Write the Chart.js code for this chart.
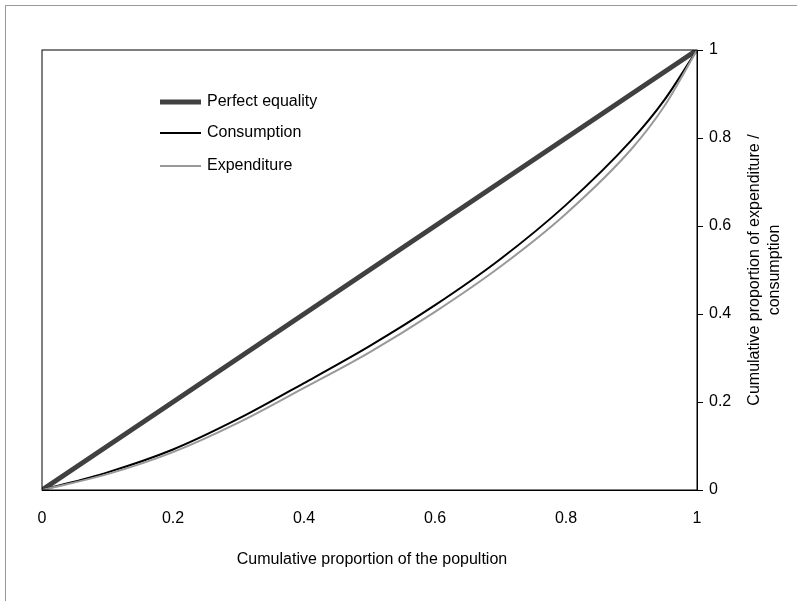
<!DOCTYPE html>
<html>
<head>
<meta charset="utf-8">
<script src="https://cdn.jsdelivr.net/npm/chart.js@4.4.1/dist/chart.umd.min.js"></script>
<style>
  html, body { margin: 0; padding: 0; background: #fff; }
  #wrap { position: relative; width: 797px; height: 601px; }
  #frame { position: absolute; left: 5px; top: 5px; width: 800px; height: 800px; border-left: 1px solid #999; border-top: 1px solid #999; pointer-events: none; }
</style>
</head>
<body>
<div id="wrap">
  <canvas id="chart" width="797" height="601"></canvas>
  <div id="frame"></div>
</div>
<script>
// Cumulative population share
const popShare = [0, 0.1, 0.2, 0.3, 0.4, 0.5, 0.6, 0.7, 0.8, 0.9, 0.95, 1];
const equality = [0, 0.1, 0.2, 0.3, 0.4, 0.5, 0.6, 0.7, 0.8, 0.9, 0.95, 1];
const consumption = [0, 0.04, 0.092, 0.162, 0.243, 0.327, 0.42, 0.525, 0.648, 0.795, 0.886, 1];
const expenditure = [0, 0.036, 0.086, 0.153, 0.232, 0.313, 0.405, 0.508, 0.628, 0.775, 0.872, 1];
const seriesNames = ['Perfect equality', 'Consumption', 'Expenditure'];
const seriesColors = ['#404040', '#000000', '#999999'];
const seriesWidths = [5, 2, 2];
const xTitle = 'Cumulative proportion of the popultion';
const yTitle = ['Cumulative proportion of expenditure /', 'consumption'];

const toPoints = (ys) => ys.map((y, i) => ({ x: popShare[i], y }));
const FONT = '"Liberation Sans", Arial, sans-serif';
const fmt = (v) => String(Math.round(v * 10) / 10);

const extras = {
    id: 'extras',
    afterDraw(chart) {
        const { ctx, chartArea: a } = chart;
        ctx.save();
        // Plot frame
        ctx.strokeStyle = '#000';
        ctx.lineWidth = 1;
        ctx.strokeRect(a.left, a.top, a.right - a.left, a.bottom - a.top);

        // Legend
        ctx.font = '16px ' + FONT;
        ctx.textBaseline = 'middle';
        const rows = [102, 133, 166];
        seriesNames.forEach((name, i) => {
            ctx.strokeStyle = seriesColors[i];
            ctx.lineWidth = seriesWidths[i];
            ctx.beginPath();
            ctx.moveTo(160, rows[i]);
            ctx.lineTo(201, rows[i]);
            ctx.stroke();
            ctx.fillStyle = '#000';
            ctx.fillText(name, 207, rows[i]);
        });

        // Axis titles
        ctx.textAlign = 'center';
        ctx.fillText(xTitle, 372, 560);
        ctx.translate(765, 270);
        ctx.rotate(-Math.PI / 2);
        ctx.fillText(yTitle[0], 0, -10);
        ctx.fillText(yTitle[1], 0, 10);
        ctx.restore();
    }
};

new Chart(document.getElementById('chart'), {
    type: 'scatter',
    data: {
        datasets: [equality, consumption, expenditure].map((ys, i) => ({
            label: seriesNames[i],
            data: toPoints(ys),
            showLine: true,
            borderColor: seriesColors[i],
            borderWidth: seriesWidths[i],
            pointRadius: 0,
            cubicInterpolationMode: 'monotone',
            order: 3 - i
        }))
    },
    options: {
        responsive: false,
        animation: false,
        layout: { padding: { left: 42, top: 50, right: 0, bottom: 0 } },
        plugins: { legend: { display: false }, tooltip: { enabled: false } },
        scales: {
            x: {
                type: 'linear', min: 0, max: 1,
                afterFit: (s) => { s.height = 111; },
                ticks: { stepSize: 0.2, callback: fmt, color: '#000', font: { family: FONT, size: 16 }, padding: 19 },
                grid: { drawOnChartArea: false, tickLength: 0 },
                border: { color: '#000' }
            },
            y: {
                type: 'linear', position: 'right', min: 0, max: 1,
                afterFit: (s) => { s.width = 100; },
                ticks: { stepSize: 0.2, callback: fmt, color: '#000', font: { family: FONT, size: 16 }, padding: 6 },
                grid: { drawOnChartArea: false, tickLength: 6, color: '#000' },
                border: { color: '#000' }
            }
        }
    },
    plugins: [extras]
});
</script>
</body>
</html>
